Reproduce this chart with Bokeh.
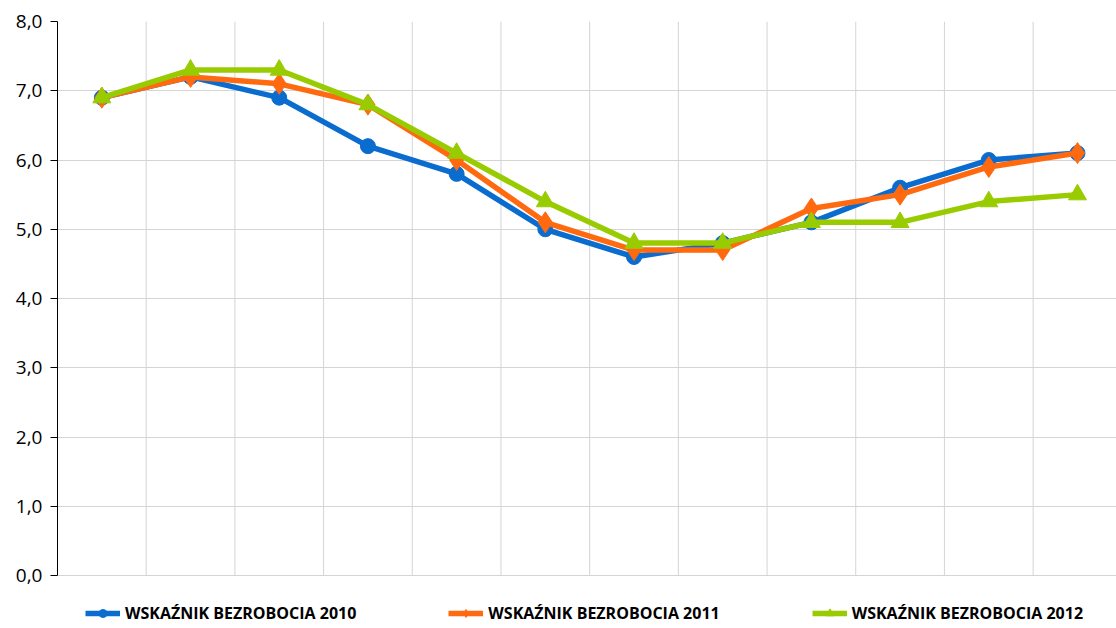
from bokeh.plotting import figure
from bokeh.models import Range1d, FixedTicker, CustomJSTickFormatter, Legend, LegendItem
from bokeh.embed import file_html
from bokeh.resources import INLINE

months = list(range(1, 13))
labels = ["WSKAŹNIK BEZROBOCIA 2010", "WSKAŹNIK BEZROBOCIA 2011", "WSKAŹNIK BEZROBOCIA 2012"]
y2010 = [6.9, 7.2, 6.9, 6.2, 5.8, 5.0, 4.6, 4.8, 5.1, 5.6, 6.0, 6.1]
y2011 = [6.9, 7.2, 7.1, 6.8, 6.0, 5.1, 4.7, 4.7, 5.3, 5.5, 5.9, 6.1]
y2012 = [6.9, 7.3, 7.3, 6.8, 6.1, 5.4, 4.8, 4.8, 5.1, 5.1, 5.4, 5.5]
y_ticks = [0, 1, 2, 3, 4, 5, 6, 7, 8]

colors = ["#0a6ccf", "#ff6a10", "#99cc00"]
markers = ["circle", "diamond", "triangle"]
msizes = [15, 21, 18]

xs = [m - 0.5 for m in months]
ymin, ymax = y_ticks[0], y_ticks[-1]

p = figure(width=1116, height=628, output_backend="svg", toolbar_location=None,
           x_range=Range1d(0, 11.94), y_range=Range1d(-0.765, 8),
           min_border_left=57, min_border_right=0, min_border_top=21, min_border_bottom=0)
p.outline_line_color = None
p.background_fill_color = "white"

p.xaxis.visible = False
p.xgrid.visible = False
# vertical category separators (between months), spanning the value axis
bounds = months[:-1]
p.segment(x0=bounds, x1=bounds, y0=[ymin] * len(bounds), y1=[ymax] * len(bounds),
          line_color="#d4d4d4", line_width=1)

p.yaxis.ticker = FixedTicker(ticks=y_ticks)
p.yaxis.bounds = (ymin, ymax)
p.yaxis.formatter = CustomJSTickFormatter(code="return tick.toFixed(1).replace('.', ',');")
p.yaxis.major_label_text_font = "Open Sans"
p.yaxis.major_label_text_font_size = "19px"
p.yaxis.major_label_text_color = "#000000"
p.yaxis.axis_line_color = "#000000"
p.yaxis.major_tick_line_color = "#000000"
p.yaxis.major_tick_in = 0
p.yaxis.major_tick_out = 7
p.yaxis.minor_tick_line_color = None
p.yaxis.major_label_standoff = 8
p.ygrid.grid_line_color = "#d4d4d4"
p.ygrid.grid_line_width = 1

items = []
for ys, c, m, s, lab in zip([y2010, y2011, y2012], colors, markers, msizes, labels):
    l = p.line(xs, ys, line_color=c, line_width=5.5)
    sc = p.scatter(xs, ys, marker=m, size=s, fill_color=c, line_color=c)
    items.append(LegendItem(label=lab, renderers=[l, sc]))

legend = Legend(items=items, orientation="horizontal", location=(28, 4),
                label_text_font="Open Sans", label_text_font_style="bold",
                label_text_font_size="16px", label_text_color="#000000",
                glyph_width=35, glyph_height=20, label_standoff=5, spacing=92,
                padding=0, margin=0, border_line_alpha=0, background_fill_alpha=0)
p.add_layout(legend, "center")

open("out.html", "w").write(file_html(p, INLINE))
